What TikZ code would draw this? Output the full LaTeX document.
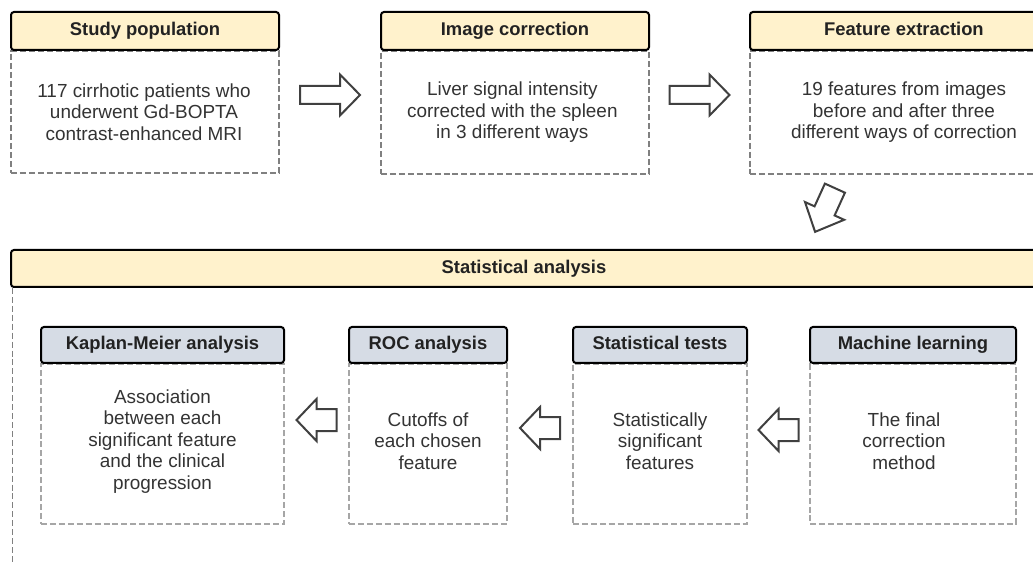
\documentclass[tikz,border=0pt]{standalone}
\usepackage{fontspec}
\setmainfont{Liberation Sans}
\usetikzlibrary{calc}

\definecolor{headyellow}{HTML}{FFF2CC}
\definecolor{headblue}{HTML}{D6DCE5}
\definecolor{dashdark}{HTML}{808080}
\definecolor{dashlight}{HTML}{A6A6A6}
\definecolor{arrowgray}{HTML}{404040}
\definecolor{bodyink}{HTML}{333333}
\definecolor{headink}{HTML}{222222}

\tikzset{
  px size/.style n args={2}{minimum width=#1*0.75pt, minimum height=#2*0.75pt},
  head/.style={draw=black, line width=1.5pt, rounded corners=2.2pt,
    font=\fontsize{13.8}{16}\selectfont\bfseries, text=headink, inner sep=0pt,
    text height=9.9pt, text depth=2.9pt},
  yhead/.style={head, fill=headyellow},
  bhead/.style={head, fill=headblue},
  bodybox/.style={draw=#1, line width=1.3pt, dash pattern=on 4.5pt off 2.2pt,
    inner sep=0pt, anchor=north},
  bodytext/.style={align=center, text=bodyink,
    font=\fontsize{14.2}{16.1}\selectfont, inner sep=0pt},
  % hollow block arrow, drawn pointing along +x and centred on the origin
  bar length/.store in=\barlen, bar head/.store in=\barhead,
  bar shaft/.store in=\barshaft, bar width/.store in=\barwidth,
  bar length=60, bar head=20, bar shaft=9, bar width=20.5,
  blockarrow/.pic={
    \draw[draw=arrowgray, fill=white, line width=1.5pt, line join=miter]
      (-\barlen/2,-\barshaft) -- (\barlen/2-\barhead,-\barshaft)
      -- (\barlen/2-\barhead,-\barwidth) -- (\barlen/2,0)
      -- (\barlen/2-\barhead,\barwidth) -- (\barlen/2-\barhead,\barshaft)
      -- (-\barlen/2,\barshaft) -- cycle;
  },
  short arrow/.style={bar length=40, bar head=20, bar shaft=11, bar width=21},
}

\begin{document}
\begin{tikzpicture}[x=0.75pt, y=-0.75pt]
\useasboundingbox (0,0) rectangle (1033,563);
\clip (0,0) rectangle (1033,563);

% ---- top row: dashed bodies first, headers drawn over their top edges
\node[bodybox=dashdark, px size={268}{122}] (b1) at (145,50) {};
\node[yhead, px size={268}{38}] (h1) at (145,31) {Study population};
\node[bodytext] (t1) at ([xshift=-0.75pt]b1.center)
  {117 cirrhotic patients who\\underwent Gd-BOPTA\\contrast-enhanced MRI};

\node[bodybox=dashdark, px size={268}{123}] (b2) at (515,50) {};
\node[yhead, px size={268}{38}] (h2) at (515,31) {Image correction};
\node[bodytext] (t2) at ([xshift=-2pt]b2.center)
  {Liver signal intensity\\corrected with the spleen\\in 3 different ways};

\node[bodybox=dashdark, px size={308}{123}] (b3) at (904,50) {};
\node[yhead, px size={308}{38}] (h3) at (904,31) {Feature extraction};
\node[bodytext] (t3) at (b3.center)
  {19 features from images\\before and after three\\different ways of correction};

% arrows between the top boxes
\coordinate (m1) at ($(b1.east)!0.5!(b2.west)$);
\coordinate (m2) at ($(b2.east)!0.5!(b3.west)$);
\pic at (m1 |- 0,95) {blockarrow};
\pic at (m2 |- 0,95) {blockarrow};
\pic[rotate=245.6, bar length=48, bar head=23, bar shaft=11, bar width=21.5]
  at (825,210) {blockarrow};

% ---- statistical analysis panel
\coordinate (saend) at (12.5,570);
\node[yhead, px size={1026}{37}] (sa) at (524,268.5) {Statistical analysis};
\draw[dashdark, line width=1.4pt, dash pattern=on 4.5pt off 2.2pt]
  (sa.south -| saend) -- (saend);

\node[bodybox=dashlight, px size={243}{160}] (bk) at (162.5,363) {};
\node[bhead, px size={243}{36}] (hk) at (162.5,345) {Kaplan-Meier analysis};
\node[bodytext] (tk) at ([yshift=2pt]bk.center)
  {Association\\between each\\significant feature\\and the clinical\\progression};

\node[bodybox=dashlight, px size={158}{160}] (br) at (428,363) {};
\node[bhead, px size={158}{36}] (hr) at (428,345) {ROC analysis};
\node[bodytext] (tr) at ([yshift=2pt]br.center)
  {Cutoffs of\\each chosen\\feature};

\node[bodybox=dashlight, px size={174}{160}] (bs) at (660,363) {};
\node[bhead, px size={174}{36}] (hs) at (660,345) {Statistical tests};
\node[bodytext] (ts) at ([yshift=2pt]bs.center)
  {Statistically\\significant\\features};

\node[bodybox=dashlight, px size={206}{160}] (bm) at (913,363) {};
\node[bhead, px size={206}{36}] (hm) at (913,345) {Machine learning};
\node[bodytext] (tm) at ([xshift=-6.75pt, yshift=2pt]bm.center)
  {The final\\correction\\method};

% arrows between the analysis steps, pointing left
\coordinate (m3) at ($(bk.east)!0.5!(br.west)$);
\coordinate (m4) at ($(br.east)!0.5!(bs.west)$);
\coordinate (m5) at ($(bs.east)!0.5!(bm.west)$);
\pic[rotate=180, short arrow] at (m3 |- 0,420) {blockarrow};
\pic[rotate=180, short arrow] at (m4 |- 0,428) {blockarrow};
\pic[rotate=180, short arrow] at (m5 |- 0,430) {blockarrow};
\end{tikzpicture}
\end{document}
